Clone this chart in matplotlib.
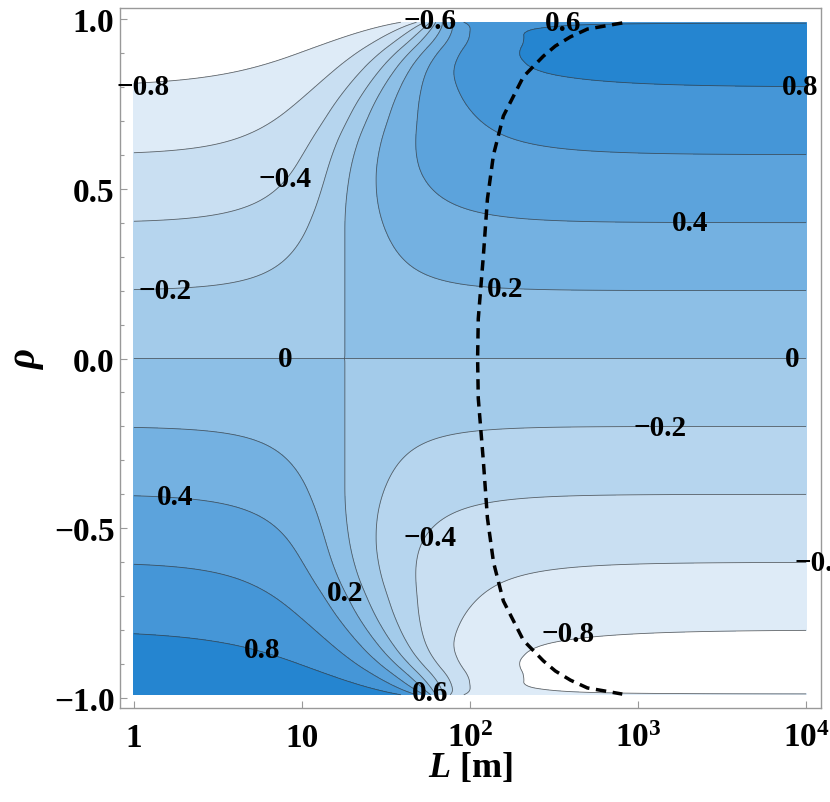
import numpy as np
import matplotlib
matplotlib.use("Agg")
import matplotlib.pyplot as plt
from matplotlib.ticker import FixedLocator, FixedFormatter, MultipleLocator, NullLocator

plt.rcParams['font.family'] = ['Liberation Serif', 'DejaVu Serif']
plt.rcParams['font.weight'] = 'bold'
plt.rcParams['mathtext.fontset'] = 'custom'
plt.rcParams['mathtext.rm'] = 'Liberation Serif:bold'
plt.rcParams['mathtext.bf'] = 'Liberation Serif:bold'
plt.rcParams['mathtext.it'] = 'Liberation Serif:italic:bold'

# contour levels and the blue bands between them
levels = [-1.0, -0.8, -0.6, -0.4, -0.2, 0.0, 0.2, 0.4, 0.6, 0.8, 1.0]
band_colors = ['#ffffff', '#deebf7', '#c9dff2', '#b6d5ee', '#a3cbea',
               '#8dbfe6', '#74b1e1', '#5ca3dc', '#4596d7', '#2585d0']

# L where the zero contour sits, against |rho|
r_mid = [0.0, 0.45, 0.6, 0.7, 0.8, 0.867, 0.93, 0.99]
L_mid = [18.0, 18.0, 20.0, 24.0, 30.0, 37.6, 48.0, 70.0]

# how fast the crossover happens in log L, left and right of L_mid
r_k = [0.0, 0.3, 0.5, 0.7, 0.867, 0.93, 0.97, 0.99]
k_left = [1.5, 1.45, 1.6, 1.2, 0.85, 0.68, 0.55, 0.52]
k_right = [1.6, 1.5, 1.3, 0.95, 0.9, 0.75, 0.6, 0.55]

# value reached at large L, against |rho|
r_far = [0.0, 0.8, 0.85, 0.9, 0.95, 0.97, 0.985, 0.99]
f_far = [0.0, 0.8, 0.86, 0.89, 0.885, 0.87, 0.8, 0.77]

# dashed curve
dash_rho = [0.988, 0.97, 0.947, 0.92, 0.89, 0.83, 0.714, 0.6, 0.47, 0.3, 0.117, 0.0,
            -0.117, -0.3, -0.47, -0.6, -0.714, -0.83, -0.89, -0.92, -0.947, -0.97, -0.988]
dash_L = [806, 500, 396, 322, 273, 208, 158, 138, 127, 120, 112, 111,
          112, 120, 127, 138, 158, 208, 273, 322, 396, 500, 806]

# contour label placement (L, rho, level)
label_spots = [(1.13, 0.80, -0.8), (57.8, 0.994, -0.6), (358, 0.988, 0.6),
               (9200, 0.80, 0.8), (7.9, 0.529, -0.4), (1.53, 0.199, -0.2),
               (7.9, 0.0, 0.0), (8260, 0.0, 0.0), (161.6, 0.205, 0.2),
               (2040, 0.40, 0.4), (1352, -0.202, -0.2), (1.75, -0.405, 0.4),
               (57.8, -0.526, -0.4), (12300, -0.60, -0.6), (18, -0.688, 0.2),
               (383, -0.811, -0.8), (5.78, -0.856, 0.8), (57.8, -0.982, 0.6)]

x_ticks = [1, 10, 100, 1000, 10000]
x_ticklabels = ['1', '10', '$10^{2}$', '$10^{3}$', '$10^{4}$']
y_ticks = [-1.0, -0.5, 0.0, 0.5, 1.0]
y_ticklabels = ['\u22121.0', '\u22120.5', '0.0', '0.5', '1.0']


def fmt(v):
    s = '{:g}'.format(v)
    return s.replace('-', '\u2212')


def smooth(p, n=25):
    # running mean along rho so the profiles have no corners
    pad = np.concatenate([np.full(n, p[0]), p, np.full(n, p[-1])])
    ker = np.ones(2 * n + 1) / (2 * n + 1)
    return np.convolve(pad, ker, mode='same')[n:-n]


# build the field on a grid
L = np.logspace(0, 4, 800)
rho = np.linspace(-0.99, 0.99, 700)
r1 = np.abs(rho)
um1 = smooth(np.interp(r1, r_mid, np.log10(L_mid)))
kl1 = smooth(np.interp(r1, r_k, k_left))
kr1 = smooth(np.interp(r1, r_k, k_right))
F1 = smooth(np.interp(r1, r_far, f_far), 6)

LL, RR = np.meshgrid(L, rho)
r = np.abs(RR)
u = np.log10(LL)
um = um1[:, None]
blend = 1 / (1 + np.exp(-(u - um) / 0.12))
k = kl1[:, None] + (kr1[:, None] - kl1[:, None]) * blend
X = 10 ** ((u - um) * k)
T = (X - 1) / np.sqrt((X - 1) ** 2 + 2 * X * (1 - r ** 2))
amp = np.where(T < 0, r, F1[:, None])
Z = np.sign(RR) * amp * T

fig = plt.figure(figsize=(8.3, 8.03), dpi=100)
ax = fig.add_axes([120 / 830, 1 - 709 / 803, 701 / 830, 700 / 803])

ax.contourf(LL, RR, Z, levels=levels, colors=band_colors)
ax.contour(LL, RR, Z, levels=levels[1:-1], colors='#3a3a3a', linewidths=0.6,
           alpha=0.75, linestyles='solid')

ax.plot(dash_L, dash_rho, color='black', lw=2.5, ls=(0, (3.0, 1.9)))

for lx, ly, lev in label_spots:
    ax.text(lx, ly, fmt(lev), ha='center', va='center', fontsize=21,
            fontweight='bold', clip_on=False, zorder=5)

ax.set_xscale('log')
ax.set_xlim(10 ** -0.083, 10 ** 4.089)
ax.set_ylim(-1.029, 1.032)

ax.xaxis.set_major_locator(FixedLocator(x_ticks))
ax.xaxis.set_major_formatter(FixedFormatter(x_ticklabels))
ax.xaxis.set_minor_locator(NullLocator())
ax.yaxis.set_major_locator(FixedLocator(y_ticks))
ax.yaxis.set_major_formatter(FixedFormatter(y_ticklabels))
ax.yaxis.set_minor_locator(MultipleLocator(0.1))

ax.tick_params(which='both', direction='in', color='#999999', labelsize=24,
               top=False, right=False)
ax.tick_params(which='major', length=5, width=0.8)
ax.tick_params(which='minor', length=3, width=0.8)
ax.tick_params(axis='x', pad=10)
ax.tick_params(axis='y', pad=4)
for s in ax.spines.values():
    s.set_color('#999999')
    s.set_linewidth(1.0)

ax.set_xlabel('$L$ [m]', fontsize=26, fontweight='bold')
ax.xaxis.set_label_coords(0.5, -0.06)
ax.set_ylabel('\u03c1', fontsize=28, fontweight='bold', fontstyle='italic')
ax.yaxis.set_label_coords(-0.107, 0.5)

fig.savefig('out.png', dpi=100, facecolor='white')
